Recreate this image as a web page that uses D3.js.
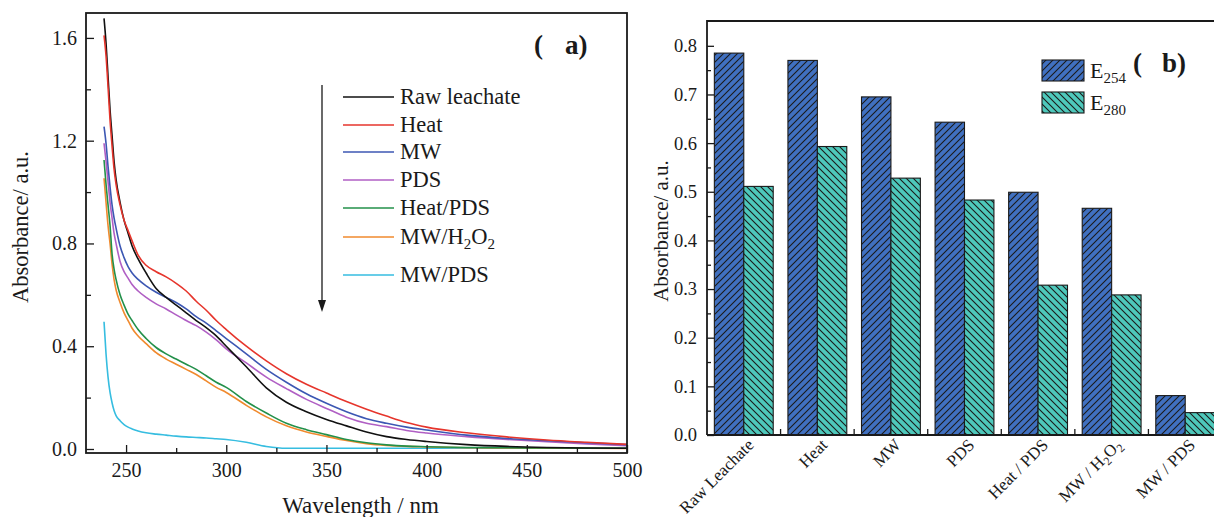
<!DOCTYPE html>
<html><head><meta charset="utf-8">
<script src="https://cdn.jsdelivr.net/npm/d3@7"></script>
<style>
html,body{margin:0;padding:0;background:#fff;}
svg{display:block;font-family:"Liberation Serif","Times New Roman",serif;}
</style></head>
<body>
<svg id="chart" width="1214" height="517"></svg>
<script>
// ---------- Panel (a) data ----------
const wavelengths = [239,240,241,242,243,244,245,247,249,251,253,256,260,265,270,275,280,285,290,295,300,310,320,330,340,350,360,370,380,390,400,420,440,460,480,500];
const seriesNamesA = ["Raw leachate","Heat","MW","PDS","Heat/PDS","MW/H2O2","MW/PDS"];
const rawLeachate = [1.676,1.58,1.45,1.32,1.22,1.12,1.05,0.96,0.89,0.84,0.79,0.74,0.685,0.625,0.59,0.56,0.53,0.50,0.472,0.44,0.40,0.32,0.238,0.182,0.145,0.115,0.09,0.066,0.048,0.037,0.029,0.017,0.010,0.006,0.004,0.003];
const heat        = [1.61,1.53,1.41,1.28,1.18,1.09,1.03,0.95,0.89,0.85,0.81,0.755,0.715,0.69,0.67,0.645,0.615,0.575,0.54,0.50,0.465,0.40,0.343,0.293,0.252,0.218,0.185,0.155,0.128,0.103,0.085,0.063,0.047,0.035,0.026,0.018];
const mw          = [1.255,1.19,1.10,1.02,0.95,0.90,0.86,0.79,0.745,0.71,0.685,0.66,0.635,0.61,0.59,0.57,0.545,0.515,0.49,0.46,0.43,0.37,0.31,0.26,0.215,0.178,0.145,0.118,0.10,0.085,0.074,0.054,0.041,0.032,0.024,0.017];
const pds         = [1.19,1.12,1.04,0.96,0.90,0.84,0.80,0.73,0.69,0.665,0.64,0.615,0.59,0.565,0.545,0.522,0.50,0.48,0.455,0.425,0.39,0.335,0.28,0.235,0.193,0.158,0.124,0.10,0.087,0.072,0.062,0.048,0.037,0.028,0.020,0.013];
const heatPds     = [1.125,1.03,0.95,0.87,0.76,0.70,0.66,0.60,0.56,0.525,0.50,0.465,0.43,0.395,0.37,0.35,0.33,0.31,0.285,0.26,0.24,0.185,0.14,0.10,0.075,0.056,0.037,0.024,0.016,0.011,0.009,0.006,0.005,0.004,0.003,0.003];
const mwH2o2      = [1.054,0.96,0.87,0.80,0.72,0.66,0.62,0.57,0.53,0.50,0.47,0.44,0.41,0.375,0.35,0.33,0.31,0.29,0.265,0.24,0.22,0.17,0.125,0.09,0.066,0.049,0.033,0.021,0.014,0.010,0.008,0.005,0.004,0.003,0.003,0.002];
const mwPds       = [0.495,0.37,0.28,0.22,0.18,0.15,0.13,0.11,0.095,0.085,0.078,0.07,0.063,0.058,0.054,0.05,0.047,0.045,0.043,0.04,0.037,0.026,0.010,0.003,0.003,0.003,0.003,0.003,0.003,0.003,0.003,0.003,0.003,0.003,0.003,0.003];
const colorsA = ["#111111","#e6352c","#3c57b3","#b05fc4","#23904a","#f08a2e","#36bde0"];
const xTicksA = [250,300,350,400,450,500];
const yTicksA = [0.0,0.4,0.8,1.2,1.6];

// ---------- Panel (b) data ----------
const categoriesB = ["Raw Leachate","Heat","MW","PDS","Heat / PDS","MW / H2O2","MW / PDS"];
const seriesB = ["E254","E280"];
const e254 = [0.785,0.770,0.695,0.643,0.499,0.466,0.081];
const e280 = [0.511,0.593,0.528,0.483,0.308,0.288,0.046];
const yTicksB = [0.0,0.1,0.2,0.3,0.4,0.5,0.6,0.7,0.8];
const colorsB = ["#4070c0","#4ec8bb"];

const svg = d3.select("#chart");
const ink = "#1a1a1a";

// patterns
const defs = svg.append("defs");
function hatch(id, color, dir){
  const p = defs.append("pattern").attr("id", id).attr("patternUnits","userSpaceOnUse")
    .attr("width",7).attr("height",7);
  p.append("rect").attr("width",7).attr("height",7).attr("fill",color);
  const d = dir > 0 ? "M-1,1 l2,-2 M0,7 l7,-7 M6,8 l2,-2" : "M-1,6 l2,2 M0,0 l7,7 M6,-1 l2,2";
  p.append("path").attr("d", d).attr("stroke", ink).attr("stroke-width",1.1);
}
hatch("hb", colorsB[0], 1);
hatch("ht", colorsB[1], -1);

// ================= Panel (a) =================
const A = {l:86, t:13, r:627, b:453};
const xa = d3.scaleLinear().domain([230,500]).range([A.l, A.r]);
const ya = d3.scaleLinear().domain([-0.0156,1.697]).range([A.b, A.t]);
const gA = svg.append("g");

const seriesA = [rawLeachate, heat, mw, pds, heatPds, mwH2o2, mwPds];
const line = d3.line().x((d,i)=>xa(wavelengths[i])).y(d=>ya(d)).curve(d3.curveMonotoneX);
[6,5,4,3,2,0,1].forEach(k=>{
  gA.append("path").datum(seriesA[k]).attr("d", line).attr("fill","none")
    .attr("stroke", colorsA[k]).attr("stroke-width",1.6);
});

// axes
const axB = d3.axisBottom(xa).tickValues(xTicksA).tickFormat(d3.format("d")).tickSize(-8).tickPadding(10);
const gxa = gA.append("g").attr("transform",`translate(0,${A.b})`).call(axB);
const axBm = d3.axisBottom(xa).tickValues([275,325,375,425,475]).tickFormat("").tickSize(-5);
gA.append("g").attr("transform",`translate(0,${A.b})`).call(axBm);
const axL = d3.axisLeft(ya).tickValues(yTicksA).tickFormat(d3.format(".1f")).tickSize(-8).tickPadding(9);
gA.append("g").attr("transform",`translate(${A.l},0)`).call(axL);
const axLm = d3.axisLeft(ya).tickValues([0.2,0.6,1.0,1.4]).tickFormat("").tickSize(-5);
gA.append("g").attr("transform",`translate(${A.l},0)`).call(axLm);

gA.append("rect").attr("x",A.l).attr("y",A.t).attr("width",A.r-A.l).attr("height",A.b-A.t)
  .attr("fill","none").attr("stroke",ink).attr("stroke-width",1.8);

// legend a
const legY = [97,125,152,180,208,237,275];
const leg = gA.append("g");
seriesNamesA.forEach((n,i)=>{
  leg.append("line").attr("x1",343).attr("x2",394).attr("y1",legY[i]).attr("y2",legY[i])
    .attr("stroke",colorsA[i]).attr("stroke-width",1.6);
  const t = leg.append("text").attr("x",400).attr("y",legY[i]+7).attr("font-size",22.5).attr("fill",ink);
  if(n==="MW/H2O2"){
    t.append("tspan").text("MW/H");
    t.append("tspan").attr("dy",5).attr("font-size",15).text("2");
    t.append("tspan").attr("dy",-5).text("O");
    t.append("tspan").attr("dy",5).attr("font-size",15).text("2");
  } else t.text(n);
});
// arrow
gA.append("line").attr("x1",322).attr("x2",322).attr("y1",85).attr("y2",302).attr("stroke",ink).attr("stroke-width",1.3);
gA.append("path").attr("d","M318,300 L326,300 L322,312 Z").attr("fill",ink);

// label (a)
gA.append("text").attr("x",534).attr("y",54).attr("font-size",27).attr("font-weight","bold").attr("fill",ink).text("(");
gA.append("text").attr("x",565).attr("y",54).attr("font-size",27).attr("font-weight","bold").attr("fill",ink).text("a)");

// titles
gA.append("text").attr("transform",`translate(28,${(A.t+A.b)/2 - 6}) rotate(-90)`).attr("text-anchor","middle")
  .attr("font-size",22.5).attr("fill",ink).text("Absorbance/ a.u.");
gA.append("text").attr("x",(A.l+A.r)/2 + 4).attr("y",513).attr("text-anchor","middle")
  .attr("font-size",23).attr("fill",ink).text("Wavelength / nm");

// ================= Panel (b) =================
const B = {l:707, t:21, r:1222, b:435};
const x0 = d3.scaleBand().domain(categoriesB).range([B.l, B.r]).paddingInner(0).paddingOuter(0);
const x1 = d3.scaleBand().domain(seriesB).range([0, x0.bandwidth()]).paddingInner(0).paddingOuter(0.25);
const yb = d3.scaleLinear().domain([0,0.851]).range([B.b, B.t]);
const gB = svg.append("g");

const valsB = [e254, e280];
const fills = ["url(#hb)","url(#ht)"];
categoriesB.forEach((c,i)=>{
  seriesB.forEach((s,k)=>{
    gB.append("rect").attr("x", x0(c)+x1(s)).attr("y", yb(valsB[k][i]))
      .attr("width", x1.bandwidth()).attr("height", yb(0)-yb(valsB[k][i]))
      .attr("fill", fills[k]).attr("stroke", ink).attr("stroke-width",1.1);
  });
});

const axLb = d3.axisLeft(yb).tickValues(yTicksB).tickFormat(d3.format(".1f")).tickSize(-7).tickPadding(10);
gB.append("g").attr("transform",`translate(${B.l},0)`).call(axLb);
const axLbm = d3.axisLeft(yb).tickValues([0.05,0.15,0.25,0.35,0.45,0.55,0.65,0.75]).tickFormat("").tickSize(-4);
gB.append("g").attr("transform",`translate(${B.l},0)`).call(axLbm);

// category boundary ticks
categoriesB.slice(1).forEach(c=>{
  gB.append("line").attr("x1",x0(c)).attr("x2",x0(c)).attr("y1",B.b).attr("y2",B.b-6).attr("stroke",ink).attr("stroke-width",1.3);
});
// category labels
categoriesB.forEach(c=>{
  const cx = x0(c)+x0.bandwidth()/2;
  const t = gB.append("text").attr("transform",`translate(${cx+11},${B.b+11}) rotate(-45)`)
    .attr("text-anchor","end").attr("font-size",17).attr("fill",ink);
  if(c==="MW / H2O2"){
    t.append("tspan").text("MW / H");
    t.append("tspan").attr("dy",4).attr("font-size",12).text("2");
    t.append("tspan").attr("dy",-4).text("O");
    t.append("tspan").attr("dy",4).attr("font-size",12).text("2");
  } else t.text(c);
});

// frame b (left, top, bottom)
gB.append("path").attr("d",`M${B.l},${B.b} L${B.l},${B.t} L${B.r},${B.t} M${B.l},${B.b} L${B.r},${B.b}`)
  .attr("fill","none").attr("stroke",ink).attr("stroke-width",1.8);

// legend b
const legBy = [60,92];
seriesB.forEach((s,k)=>{
  gB.append("rect").attr("x",1042).attr("y",legBy[k]).attr("width",42).attr("height",21)
    .attr("fill",fills[k]).attr("stroke",ink).attr("stroke-width",1.1);
  const t = gB.append("text").attr("x",1090).attr("y",legBy[k]+18).attr("font-size",22).attr("fill",ink);
  t.append("tspan").text(s[0]);
  t.append("tspan").attr("dy",5).attr("font-size",15).text(s.slice(1));
});
gB.append("text").attr("x",1133).attr("y",72).attr("font-size",27).attr("font-weight","bold").attr("fill",ink).text("(");
gB.append("text").attr("x",1162).attr("y",72).attr("font-size",27).attr("font-weight","bold").attr("fill",ink).text("b)");

gB.append("text").attr("transform",`translate(668,${(B.t+B.b)/2 + 3}) rotate(-90)`).attr("text-anchor","middle")
  .attr("font-size",21).attr("fill",ink).text("Absorbance/ a.u.");

// axis text styling
svg.selectAll(".tick text").attr("fill",ink).attr("font-family","Liberation Serif");
gA.selectAll(".tick text").attr("font-size",20);
gB.selectAll(".tick text").attr("font-size",18.5);
svg.selectAll(".domain").remove();
svg.selectAll(".tick line").attr("stroke",ink).attr("stroke-width",1.3);
</script>
</body></html>
